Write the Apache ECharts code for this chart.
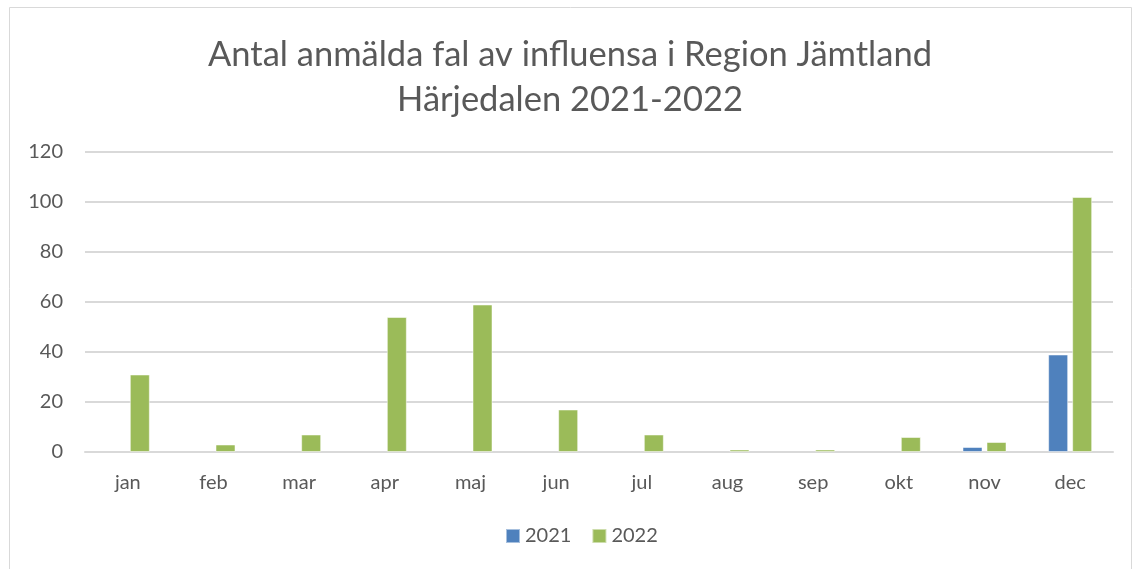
<!DOCTYPE html>
<html>
<head>
<meta charset="utf-8">
<script src="https://cdn.jsdelivr.net/npm/echarts@6/dist/echarts.min.js"></script>
<style>
html,body{margin:0;padding:0;background:#fff;}
#c{width:1140px;height:569px;}
</style>
</head>
<body>
<div id="c"></div>
<script>
const categories = ['jan','feb','mar','apr','maj','jun','jul','aug','sep','okt','nov','dec'];
const values2021 = [null,null,null,null,null,null,null,null,null,null,2,39];
const values2022 = [31,3,7,54,59,17,7,1,1,6,4,102];
const seriesNames = ['2021','2022'];
const titleText = 'Antal anmälda fal av influensa i Region Jämtland\nHärjedalen 2021-2022';

const chart = echarts.init(document.getElementById('c'), null, {renderer:'canvas'});
const font = 'Lato, "Open Sans", sans-serif';
chart.setOption({
  animation:false,
  backgroundColor:'#fff',
  graphic:[{type:'rect',shape:{x:9.5,y:7.5,width:1122,height:570},style:{fill:'none',stroke:'#d9d9d9',lineWidth:1},silent:true}],
  title:{
    text:titleText,left:'center',top:27,
    textStyle:{fontFamily:font,fontSize:34.5,fontWeight:'normal',color:'#595959',lineHeight:45}
  },
  legend:{
    data:seriesNames,bottom:18,left:500,itemWidth:14,itemHeight:14,itemGap:20,
    icon:'rect',
    textStyle:{fontFamily:font,fontSize:20,color:'#595959'}
  },
  grid:{left:85,right:27,top:152,bottom:117,containLabel:false},
  xAxis:{
    type:'category',data:categories,
    axisLine:{lineStyle:{color:'#d9d9d9',width:2}},
    axisTick:{show:false},
    axisLabel:{fontFamily:font,fontSize:20,color:'#595959',margin:21}
  },
  yAxis:{
    type:'value',min:0,max:120,interval:20,
    axisLine:{show:false},axisTick:{show:false},
    splitLine:{lineStyle:{color:'#d9d9d9',width:2}},
    axisLabel:{fontFamily:font,fontSize:20,color:'#595959',margin:22}
  },
  series:[
    {name:seriesNames[0],type:'bar',data:values2021,barWidth:20,barGap:'20%',
     itemStyle:{color:'#4F81BD',borderColor:'rgba(255,255,255,0.5)',borderWidth:1}},
    {name:seriesNames[1],type:'bar',data:values2022,barWidth:20,barGap:'20%',
     itemStyle:{color:'#9BBB59',borderColor:'rgba(255,255,255,0.5)',borderWidth:1}}
  ]
});
</script>
</body>
</html>
